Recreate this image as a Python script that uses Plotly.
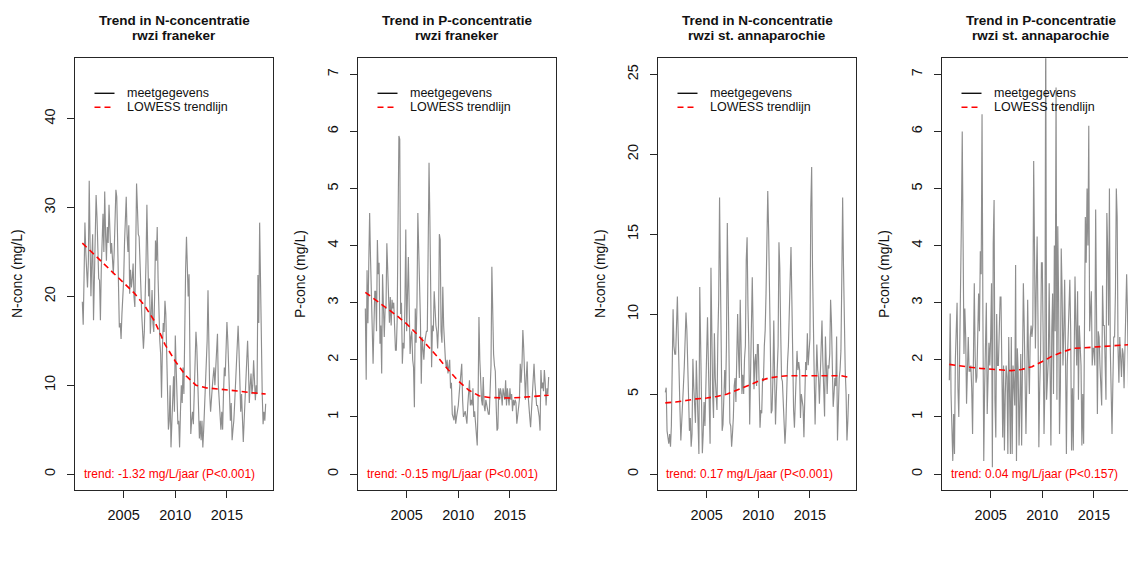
import plotly.graph_objects as go

# page body has an 8px margin; the figure is sized so it fits the 1136x563 window
OFF = 8
W, H = 1136 - OFF, 563 - OFF

# ---------------- data ----------------
n_franeker = [
    19.4, 16.8, 22, 28.3, 25, 23.3, 21, 24, 33, 26, 20, 24,
    27, 17.3, 22, 25, 31.4, 29, 26, 22, 21.8, 17.3, 23, 27,
    29.3, 25, 31.8, 27, 24, 27.8, 26, 30.3, 28, 24.8, 26, 23,
    22.5, 25, 28, 32, 31.2, 26, 24, 16.5, 17, 15.2, 18, 20,
    21.8, 26, 28, 31.2, 27, 25, 28, 20.3, 23, 21, 22, 23.7,
    20, 18.8, 25, 32.7, 30, 27, 26.7, 22, 21, 18, 16, 14.1,
    16, 19.5, 24, 30.3, 25, 20, 22, 15.8, 18, 20.7, 17, 16,
    20, 26.3, 24, 27.8, 22, 17.7, 15, 13.5, 8.6, 14, 17, 16,
    19.5, 18, 12, 8, 5, 6, 10, 3, 6, 7, 11, 7,
    15.6, 12, 8, 5.6, 6, 3, 7, 10, 8, 12, 9, 18,
    23, 26.7, 24, 20, 22.5, 12, 4.5, 6, 7, 5.6, 9, 12,
    16, 14.3, 10, 7, 4, 6, 3.8, 6, 3, 5, 7.5, 10,
    12, 15, 20.7, 13, 9, 7, 8, 9.8, 11, 12, 10, 12,
    14, 15.8, 10, 8, 6, 5, 7, 5, 9, 12, 11, 14,
    17.1, 15, 12.4, 10, 6, 8, 3.8, 5, 6, 8, 10, 12,
    15, 16.7, 14, 10, 7, 9, 5, 3.6, 6, 8, 11, 13,
    15, 12, 8, 10, 11.3, 9, 10, 12.8, 11, 8.3, 10, 9,
    22.4, 17, 28.3, 20, 12, 9, 5.6, 7, 6, 7.9,
]
p_franeker = [
    2.9, 1.65, 3.57, 2.64, 3.7, 4.57, 3.8, 3.16, 2.7, 1.93, 2.6, 3.2,
    3.2, 2.5, 4.1, 3.5, 3.7, 2.28, 2.6, 1.76, 3.5, 2.8, 2.4, 2.9,
    2.9, 4.04, 3.5, 2.8, 2.65, 3.1, 2.6, 3.05, 2.9, 3.0, 2.6, 2.17,
    2.17, 2.7, 4.4, 5.92, 5.86, 2.8, 3.0, 1.93, 2.3, 2.2, 3.0, 4.28,
    2.5, 3.2, 3.8, 2.9, 2.1, 2.4, 2.5, 2.0, 1.87, 1.17, 2.9, 2.3,
    3.0, 4.57, 4.0, 3.2, 2.7, 1.58, 2.4, 2.2, 2.0, 2.3, 2.4, 2.5,
    2.5, 3.8, 5.45, 4.45, 3.0, 1.87, 2.6, 2.5, 3.2, 2.7, 2.6, 2.5,
    2.2, 2.6, 4.2, 4.1, 2.5, 2.3, 3.28, 2.6, 2.1, 2.0, 1.87, 2.0,
    1.76, 1.9, 2.0, 1.5, 1.6, 1.05, 1.0, 0.94, 1.2, 0.88, 1.0, 1.1,
    1.2, 1.4, 1.58, 1.8, 1.93, 1.3, 1.0, 1.05, 1.1, 1.0, 0.88, 1.2,
    1.4, 1.64, 1.2, 1.3, 1.2, 1.5, 1.0, 1.1, 0.9, 0.7, 0.5, 1.3,
    2.75, 2.0, 1.4, 1.3, 1.2, 1.7, 1.2, 1.1, 1.3, 1.2, 1.1, 1.05,
    1.05, 1.6, 1.9, 3.63, 2.7, 2.1, 1.9, 1.8, 1.2, 0.76, 0.8, 1.5,
    1.3, 1.5, 1.4, 1.2, 1.5, 1.4, 1.3, 1.64, 1.2, 1.5, 1.3, 1.2,
    1.5, 1.3, 1.4, 1.1, 1.3, 1.2, 1.3, 1.25, 0.88, 1.0, 1.2, 1.3,
    1.93, 1.6, 1.9, 2.52, 2.2, 1.5, 1.3, 1.7, 1.97, 1.4, 1.1, 1.0,
    0.82, 1.1, 1.3, 1.5, 1.93, 1.6, 1.3, 1.2, 1.2, 1.1, 1.0, 0.76,
    1.82, 1.5, 1.6, 1.45, 1.82, 1.6, 1.2, 1.5, 1.4, 1.7,
]
n_annaparochie = [
    5.1, 5.4, 2.7, 2.1, 1.9, 2.5, 1.7, 3.0, 5.8, 10.3, 8.0, 7.5,
    7.5, 9.0, 11.1, 8.6, 5.5, 4.0, 2.1, 3.0, 4.0, 5.5, 6.7, 8.0,
    10.1, 9.0, 6.9, 4.5, 2.7, 3.5, 1.7, 2.5, 7.2, 5.5, 4.0, 3.2,
    7.1, 4.5, 2.2, 1.25, 11.7, 7.0, 5.3, 1.3, 2.5, 4.5, 3.0, 5.0,
    6.5, 9.8, 7.0, 4.0, 1.9, 12.9, 7.0, 5.0, 3.5, 8.8, 6.0, 4.5,
    4.0, 8.5, 10.9, 17.3, 12.3, 5.0, 2.7, 3.1, 4.5, 6.5, 5.0, 8.0,
    15.7, 11.3, 5.5, 3.2, 3.0, 1.7, 2.5, 3.5, 5.5, 6.0, 4.5, 8.0,
    10.0, 7.5, 6.0, 10.9, 7.5, 5.0, 6.2, 5.0, 7.2, 8.0, 13.4, 14.8,
    10.5, 8.0, 3.1, 5.5, 8.8, 12.3, 9.0, 5.3, 7.0, 7.5, 5.5, 8.1,
    8.1, 5.0, 2.9, 4.0, 3.8, 6.0, 5.8, 8.0, 9.0, 11.3, 15.0, 17.7,
    15.2, 12.5, 8.0, 3.8, 4.0, 6.0, 9.6, 6.0, 3.1, 5.0, 6.6, 8.0,
    14.5, 12.9, 9.0, 6.0, 5.8, 4.0, 2.3, 1.9, 3.0, 6.0, 7.0, 8.0,
    10.0, 11.0, 14.2, 10.9, 6.0, 4.0, 2.9, 4.5, 5.0, 7.7, 6.5, 7.0,
    6.5, 3.5, 5.0, 4.5, 4.2, 2.3, 5.0, 7.0, 6.5, 8.8, 6.8, 8.0,
    8.5, 16.7, 19.2, 12.9, 8.0, 6.0, 3.1, 5.5, 8.1, 6.5, 6.0, 4.4,
    6.0, 8.6, 9.6, 7.0, 4.4, 3.6, 8.6, 6.5, 5.0, 6.8, 6.6, 7.5,
    10.9, 9.5, 6.5, 4.2, 5.0, 6.0, 5.5, 8.6, 2.1, 5.0, 6.0, 6.5,
    7.7, 12.1, 17.3, 13.0, 7.5, 6.5, 5.0, 2.1, 3.3, 5.0,
]
p_annaparochie = [
    1.64, 2.81, 1.4, 0.59, 0.23, 1.05, 0.35, 2.0, 2.7, 3.0, 1.5, 1.0,
    2.1, 3.1, 4.4, 6.0, 2.9, 2.1, 2.9, 2.4, 1.23, 1.8, 2.4, 1.8,
    1.8, 1.9, 1.5, 0.7, 2.4, 3.34, 2.05, 1.6, 1.7, 2.7, 3.16, 2.5,
    3.9, 3.5, 6.3, 2.8, 0.23, 1.5, 2.2, 3.0, 1.05, 1.6, 2.3, 1.9,
    2.4, 3.34, 0.12, 4.04, 4.8, 1.3, 0.64, 2.8, 1.9, 1.9, 2.4, 3.1,
    3.1, 1.1, 0.64, 1.9, 0.41, 1.4, 1.9, 1.7, 0.35, 2.4, 1.5, 0.35,
    2.4, 0.35, 1.9, 1.3, 1.2, 3.66, 0.23, 2.2, 1.8, 0.5, 1.6, 2.1,
    0.5, 2.1, 3.34, 2.6, 1.4, 0.7, 1.6, 3.05, 2.0, 1.4, 2.4, 2.6,
    2.4, 2.6, 5.48, 3.8, 2.2, 3.3, 4.16, 2.7, 0.47, 1.5, 2.1, 3.7,
    3.7, 2.4, 0.7, 1.5, 8.0, 1.3, 1.9, 2.0, 3.34, 1.1, 0.5, 2.5,
    3.16, 1.4, 4.0, 2.5, 6.77, 1.3, 4.34, 3.0, 0.7, 1.5, 3.95, 3.2,
    1.9, 2.5, 3.4, 2.0, 0.35, 1.9, 2.5, 2.9, 3.4, 2.5, 0.41, 1.5,
    0.41, 2.0, 3.46, 2.6, 1.9, 3.2, 1.3, 2.6, 2.3, 1.9, 0.5, 1.4,
    0.53, 2.3, 4.5, 3.7, 5.0, 4.0, 6.1, 2.5, 2.8, 3.2, 1.9, 2.2,
    2.2, 1.9, 4.63, 3.0, 1.05, 2.5, 2.4, 1.9, 1.5, 1.2, 3.3, 2.6,
    2.6, 1.9, 1.3, 4.57, 3.9, 2.6, 5.0, 2.2, 1.0, 0.7, 1.6, 2.4,
    2.4, 3.2, 5.0, 4.5, 2.2, 1.6, 2.4, 2.1, 1.7, 2.2, 2.1, 1.5,
    2.1, 2.6, 3.5, 2.8, 1.4, 0.7, 2.5, 3.16, 3.98, 3.0,
]

# LOWESS trend lines (read at yearly positions)
lowess_years = [2001, 2002, 2003, 2004, 2005, 2006, 2007, 2008, 2009, 2010,
                2011, 2012, 2013, 2014, 2015, 2016, 2017, 2018, 2018.75]
lowess_n_franeker = [26.0, 24.9, 23.8, 22.7, 21.6, 20.4, 19.0, 17.2, 14.6, 12.7,
                     11.1, 10.0, 9.7, 9.6, 9.5, 9.35, 9.2, 9.05, 9.0]
lowess_p_franeker = [3.18, 3.05, 2.92, 2.78, 2.63, 2.45, 2.25, 2.05, 1.83, 1.63,
                     1.47, 1.37, 1.34, 1.33, 1.33, 1.34, 1.35, 1.37, 1.38]
lowess_n_annaparochie = [4.45, 4.5, 4.6, 4.7, 4.75, 4.85, 5.0, 5.25, 5.55, 5.8,
                         6.0, 6.1, 6.15, 6.15, 6.15, 6.15, 6.15, 6.15, 6.05]
lowess_p_annaparochie = [1.92, 1.89, 1.87, 1.85, 1.84, 1.83, 1.81, 1.83, 1.88, 1.97,
                         2.07, 2.14, 2.2, 2.21, 2.22, 2.24, 2.25, 2.26, 2.27]

titles_line1 = ["Trend in N-concentratie", "Trend in P-concentratie",
                "Trend in N-concentratie", "Trend in P-concentratie"]
titles_line2 = ["rwzi franeker", "rwzi franeker",
                "rwzi st. annaparochie", "rwzi st. annaparochie"]
y_titles = ["N-conc (mg/L)", "P-conc (mg/L)", "N-conc (mg/L)", "P-conc (mg/L)"]
trend_texts = ["trend: -1.32 mg/L/jaar (P<0.001)", "trend: -0.15 mg/L/jaar (P<0.001)",
               "trend: 0.17 mg/L/jaar (P<0.001)", "trend: 0.04 mg/L/jaar (P<0.157)"]
y_ticks = [[0, 10, 20, 30, 40], [0, 1, 2, 3, 4, 5, 6, 7],
           [0, 5, 10, 15, 20, 25], [0, 1, 2, 3, 4, 5, 6, 7]]
y_limits = [(0, 45), (0, 7), (0, 25), (0, 7)]
x_ticks = [2005, 2010, 2015]
legend_labels = ["meetgegevens", "LOWESS trendlijn"]

series = [n_franeker, p_franeker, n_annaparochie, p_annaparochie]
lowess = [lowess_n_franeker, lowess_p_franeker, lowess_n_annaparochie, lowess_p_annaparochie]

months = [y + m / 12 for y in range(2001, 2019) for m in range(12)]

# ---------------- layout geometry (window pixels) ----------------
frame_left = [75, 358, 658, 942]
frame_w = 198
frame_top, frame_bot = 58.3, 490
x0_data, x1_data = months[0], months[len(n_franeker) - 1]
xpad = 0.04 * (x1_data - x0_data)
xr = [x0_data - xpad, x1_data + xpad]
px_per_year = frame_w / (xr[1] - xr[0])


def fx(p):
    return (p - OFF) / W


def fy(p):
    return 1 - (p - OFF) / H


FONT = "Liberation Sans, Arial, sans-serif"
FRAME = "#262626"
fig = go.Figure()
annotations = []
shapes = []

for i in range(4):
    k = "" if i == 0 else str(i + 1)
    vals = series[i]
    fig.add_trace(go.Scatter(x=months[:len(vals)], y=vals, mode="lines",
                             line=dict(color="#8e8e8e", width=1.15),
                             xaxis="x" + k, yaxis="y" + k, showlegend=False,
                             hoverinfo="skip"))
    fig.add_trace(go.Scatter(x=lowess_years, y=lowess[i], mode="lines",
                             line=dict(color="#ff0000", width=1.6, dash="6px,4px"),
                             xaxis="x" + k, yaxis="y" + k, showlegend=False,
                             hoverinfo="skip"))
    L = frame_left[i]
    R = min(L + frame_w, 1136)
    xrange_i = [xr[0], xr[0] + (R - L) / px_per_year]
    lo, hi = y_limits[i]
    ypad = 0.04 * (hi - lo)
    fig.update_layout(**{
        "xaxis" + k: dict(domain=[fx(L), min(fx(R), 1.0)], range=xrange_i, anchor="y" + k,
                          tickvals=x_ticks, ticks="outside", ticklen=7, tickwidth=1,
                          tickcolor=FRAME, showline=True, linecolor=FRAME, linewidth=1.3,
                          mirror=True, showgrid=False, zeroline=False,
                          tickfont=dict(size=14.5, color="#111", family=FONT),
                          ticklabelstandoff=4),
        "yaxis" + k: dict(domain=[fy(frame_bot), fy(frame_top)], range=[lo - ypad, hi + ypad],
                          anchor="x" + k, tickvals=y_ticks[i], ticks="outside", ticklen=7,
                          tickwidth=1, tickcolor=FRAME, showline=True, linecolor=FRAME,
                          linewidth=1.3, mirror=(i < 3), showgrid=False, zeroline=False,
                          tickangle=-90,
                          tickfont=dict(size=14.5, color="#111", family=FONT),
                          ticklabelstandoff=6),
    })
    cx = L + frame_w / 2
    annotations.append(dict(text="<b>" + titles_line1[i] + "</b>", x=fx(cx), y=fy(20.7),
                            xref="paper", yref="paper", showarrow=False,
                            xanchor="center", yanchor="middle",
                            font=dict(size=13.5, color="#111", family=FONT)))
    annotations.append(dict(text="<b>" + titles_line2[i] + "</b>", x=fx(cx), y=fy(35.2),
                            xref="paper", yref="paper", showarrow=False,
                            xanchor="center", yanchor="middle",
                            font=dict(size=13.5, color="#111", family=FONT)))
    annotations.append(dict(text=y_titles[i], x=fx(L - 58), y=fy(274),
                            xref="paper", yref="paper", showarrow=False, textangle=-90,
                            xanchor="center", yanchor="middle",
                            font=dict(size=14, color="#111", family=FONT)))
    annotations.append(dict(text=trend_texts[i], x=fx(L + 6.5), y=0,
                            xref="paper", yref="y" + k, showarrow=False,
                            xanchor="left", yanchor="middle",
                            font=dict(size=12, color="#ff0000", family=FONT)))
    # legend
    for j, (lab, col, dash) in enumerate([(legend_labels[0], "#111", "solid"),
                                           (legend_labels[1], "#ff0000", "6px,4px")]):
        yy = 93.3 + 14 * j
        shapes.append(dict(type="line", xref="paper", yref="paper",
                           x0=fx(L + 19.5), x1=fx(L + 39.5), y0=fy(yy), y1=fy(yy),
                           line=dict(color=col, width=1.4 if j == 0 else 1.6, dash=dash)))
        annotations.append(dict(text=lab, x=fx(L + 50), y=fy(yy), xref="paper", yref="paper",
                                showarrow=False, xanchor="left", yanchor="middle",
                                font=dict(size=12.5, color="#111", family=FONT)))

fig.update_layout(width=W, height=H, margin=dict(l=0, r=0, t=0, b=0),
                  paper_bgcolor="white", plot_bgcolor="white",
                  annotations=annotations, shapes=shapes,
                  font=dict(family=FONT))

fig.write_html("out.html")
